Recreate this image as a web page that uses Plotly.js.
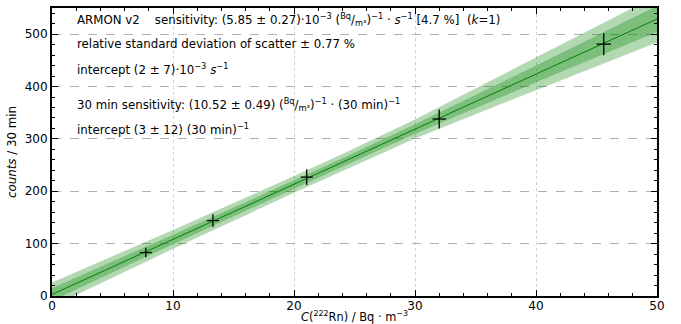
<!DOCTYPE html>
<html>
<head>
<meta charset="utf-8">
<script src="https://cdn.plot.ly/plotly-3.0.1.min.js"></script>
<style>
html,body{margin:0;padding:0;background:#fff;}
#chart{width:681px;height:324px;}
</style>
</head>
<body>
<div id="chart"></div>
<script>
// measured points
const concentration = [7.75, 13.3, 21.05, 32.0, 45.6];
const concentrationErr = [0.5, 0.5, 0.5, 0.55, 0.6];
const counts = [83, 144, 227, 338, 481];
const countsErr = [9, 12, 15, 18, 21];

// fit line and uncertainty bands
const bandX = [0, 10, 20, 24, 30, 40, 50];
const fitY = [3, 108, 213, 255, 319, 424, 529];
const innerHalf = [12, 9, 8, 8, 9, 16, 25];
const outerHalf = [23, 18, 16, 16, 18, 31, 45];

const xTickVals = [0, 10, 20, 30, 40, 50];
const yTickVals = [0, 100, 200, 300, 400, 500];

const innerUp = fitY.map((v, i) => v + innerHalf[i]);
const innerLo = fitY.map((v, i) => v - innerHalf[i]);
const outerUp = fitY.map((v, i) => v + outerHalf[i]);
const outerLo = fitY.map((v, i) => v - outerHalf[i]);

const fillCol = 'rgba(0,128,0,0.3)';
const traces = [
  {x: bandX, y: outerLo, mode: 'lines', line: {width: 0}, hoverinfo: 'skip', showlegend: false},
  {x: bandX, y: outerUp, mode: 'lines', line: {width: 0}, fill: 'tonexty', fillcolor: fillCol, hoverinfo: 'skip', showlegend: false},
  {x: bandX, y: innerLo, mode: 'lines', line: {width: 0}, hoverinfo: 'skip', showlegend: false},
  {x: bandX, y: innerUp, mode: 'lines', line: {width: 0}, fill: 'tonexty', fillcolor: fillCol, hoverinfo: 'skip', showlegend: false},
  {x: bandX, y: fitY, mode: 'lines', line: {color: '#008000', width: 1}, showlegend: false},
  {x: concentration, y: counts, mode: 'markers', marker: {size: 1, color: 'rgba(0,0,0,0)'},
   error_x: {type: 'data', array: concentrationErr, color: '#000', thickness: 1.3, width: 0},
   error_y: {type: 'data', array: countsErr, color: '#000', thickness: 1.3, width: 0},
   showlegend: false}
];

const fnt = {family: 'DejaVu Sans', size: 11.8, color: '#000'};
const ann = (y, text) => ({xref: 'paper', yref: 'paper', x: 0.038, y: y, xanchor: 'left', yanchor: 'middle', showarrow: false, text: text, font: fnt, align: 'left'});
const yPaper = py => (296 - py) / (296 - 8);

const layout = {
  width: 681, height: 324,
  margin: {l: 52, r: 24, t: 8, b: 28},
  paper_bgcolor: '#fff', plot_bgcolor: '#fff',
  showlegend: false,
  xaxis: {
    range: [0, 50], tickvals: xTickVals, ticktext: xTickVals.map(String),
    ticks: 'inside', ticklen: 6, tickwidth: 1, tickcolor: '#000',
    minor: {dtick: 2, ticks: 'inside', ticklen: 3, tickcolor: '#000', showgrid: false},
    showline: true, linecolor: '#000', linewidth: 2, mirror: 'ticks',
    showgrid: true, gridcolor: '#d0d0d0', griddash: 'dot', gridwidth: 1,
    zeroline: false, ticklabelstandoff: -2,
    tickfont: {family: 'DejaVu Sans', size: 12, color: '#000'},
    title: {text: '<i>C</i>(<sup>222</sup>Rn) / Bq · m<sup>−3</sup>', font: {family: 'DejaVu Sans', size: 11.4, color: '#000'}, standoff: 3}
  },
  yaxis: {
    range: [0, 550], tickvals: yTickVals, ticktext: yTickVals.map(String),
    ticks: 'inside', ticklen: 6, tickwidth: 1, tickcolor: '#000',
    minor: {dtick: 20, ticks: 'inside', ticklen: 3, tickcolor: '#000', showgrid: false},
    showline: true, linecolor: '#000', linewidth: 2, mirror: 'ticks',
    showgrid: true, gridcolor: '#b0b0b0', griddash: 'dash', gridwidth: 1,
    zeroline: false,
    tickfont: {family: 'DejaVu Sans', size: 12, color: '#000'},
    title: {text: '<i>counts</i> / 30 min', font: {family: 'DejaVu Sans', size: 11.8, color: '#000'}, standoff: 6}
  },
  annotations: [
    ann(yPaper(20), 'ARMON v2    sensitivity: (5.85 ± 0.27)·10<sup>−3</sup> (<sup>Bq</sup>/<sub>m³</sub>)<sup>−1</sup> · <i>s</i><sup>−1</sup> [4.7 %]  (<i>k</i>=1)'),
    ann(yPaper(44), 'relative standard deviation of scatter ± 0.77 %'),
    ann(yPaper(69), 'intercept (2 ± 7)·10<sup>−3</sup> <i>s</i><sup>−1</sup>'),
    ann(yPaper(104), '30 min sensitivity: (10.52 ± 0.49) (<sup>Bq</sup>/<sub>m³</sub>)<sup>−1</sup> · (30 min)<sup>−1</sup>'),
    ann(yPaper(129), 'intercept (3 ± 12) (30 min)<sup>−1</sup>')
  ]
};

Plotly.newPlot('chart', traces, layout, {displayModeBar: false, staticPlot: true});
</script>
</body>
</html>
